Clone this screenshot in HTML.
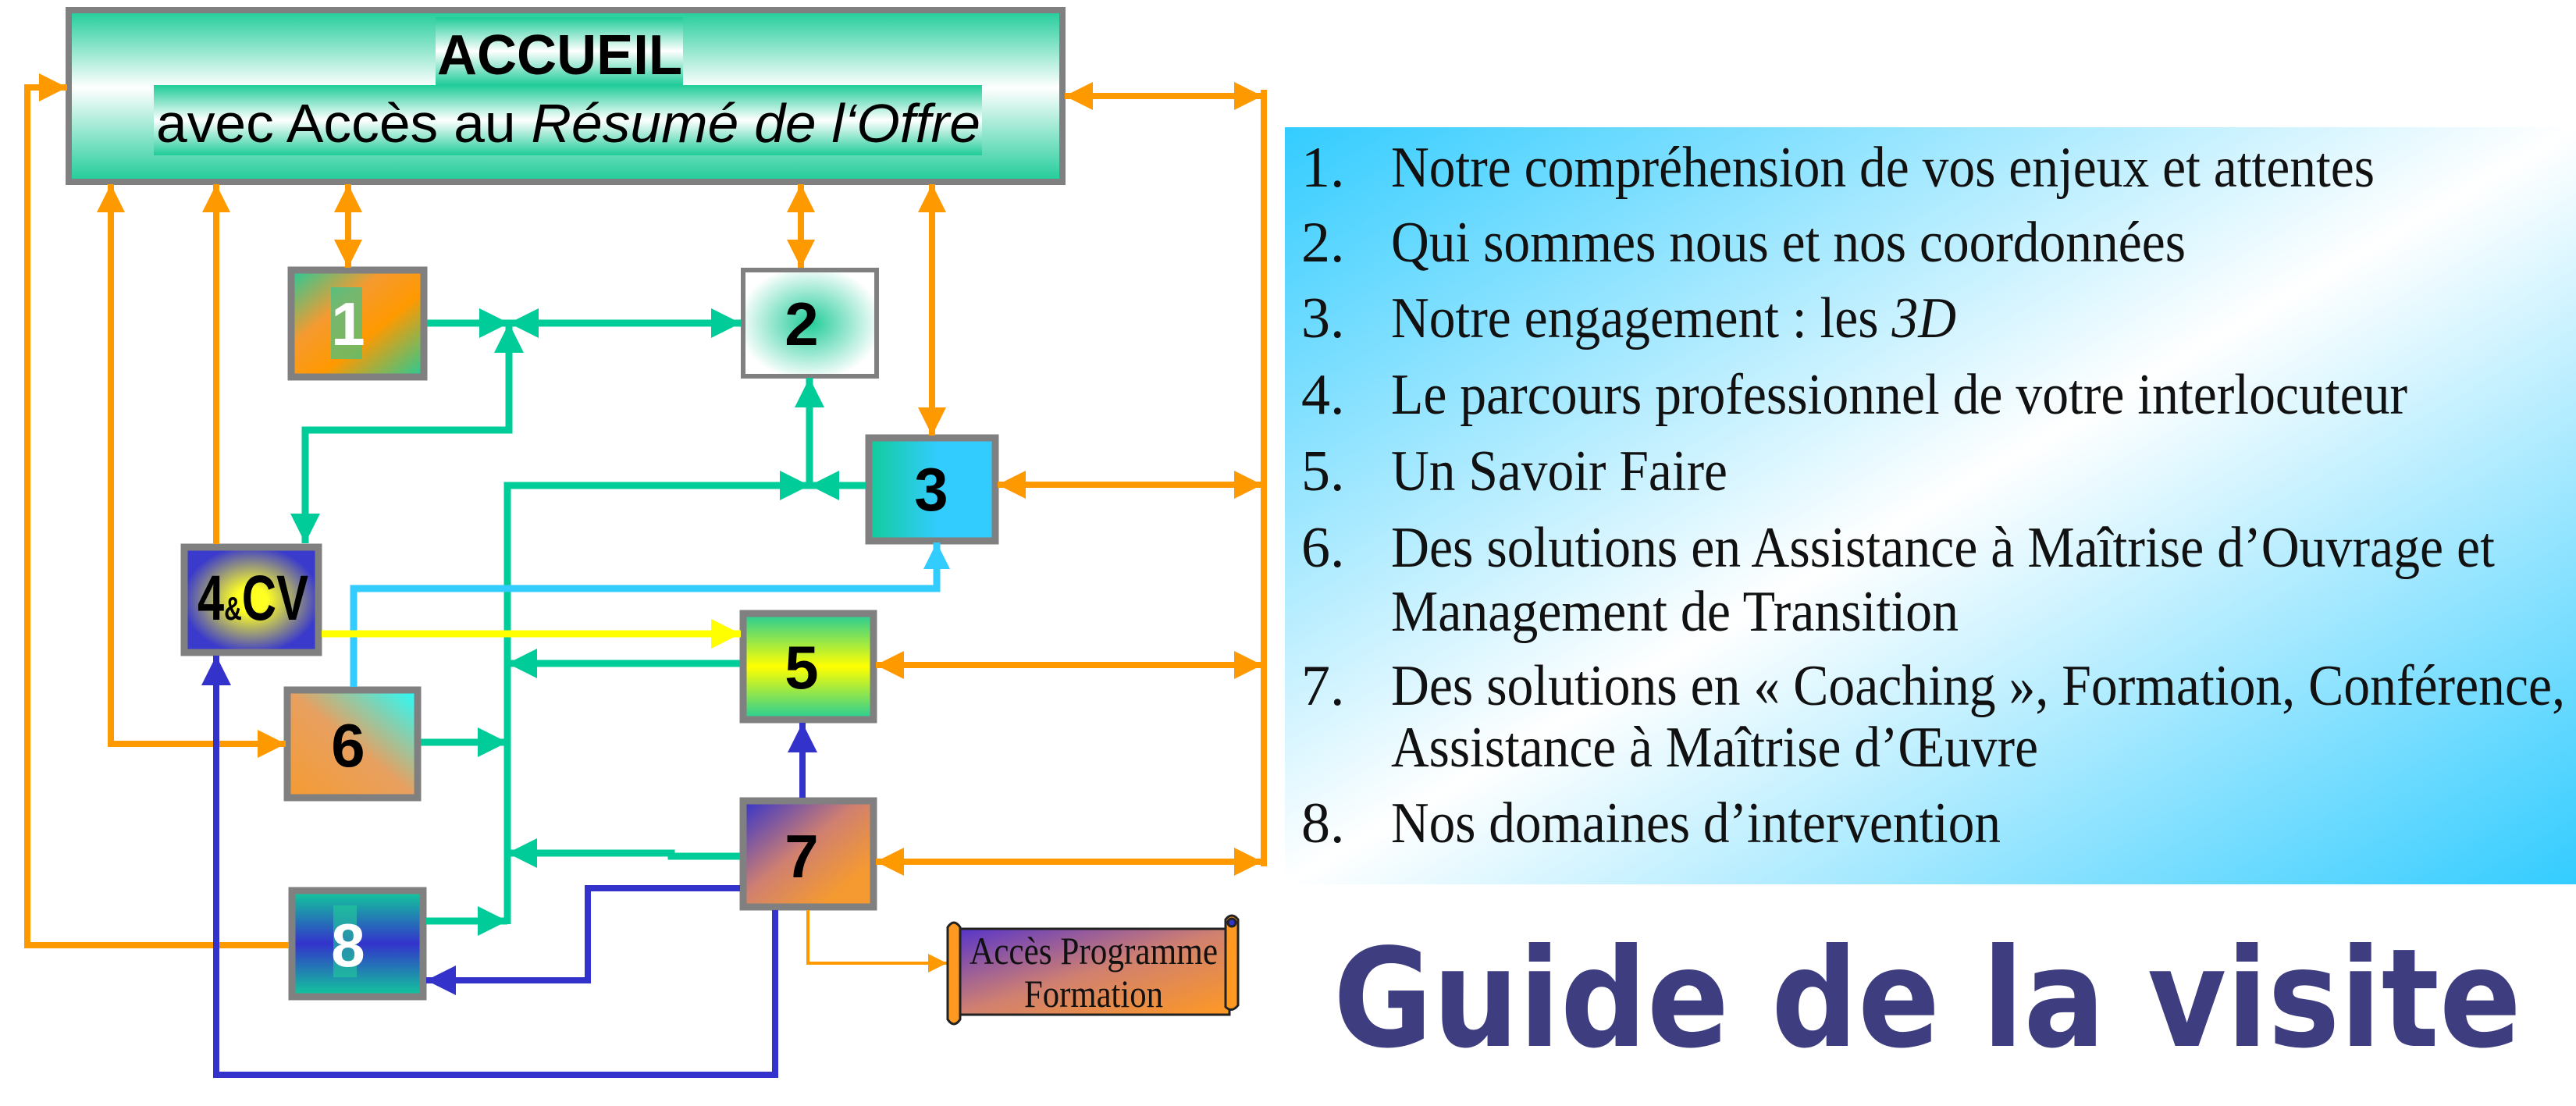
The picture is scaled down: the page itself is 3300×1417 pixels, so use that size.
<!DOCTYPE html>
<html><head><meta charset="utf-8"><style>
html,body{margin:0;padding:0;background:#fff;}
svg{display:block;}
</style></head><body>
<svg width="3300" height="1417" viewBox="0 0 3300 1417" xmlns="http://www.w3.org/2000/svg">
<defs>
<marker id="mo" viewBox="0 0 10 10" refX="10" refY="5" markerWidth="36" markerHeight="40" markerUnits="userSpaceOnUse" orient="auto-start-reverse"><path d="M0,0L10,5L0,10z" fill="#ff9900"/></marker>
<marker id="mos" viewBox="0 0 10 10" refX="10" refY="5" markerWidth="24" markerHeight="28" markerUnits="userSpaceOnUse" orient="auto-start-reverse"><path d="M0,0L10,5L0,10z" fill="#ff9900"/></marker>
<marker id="mg" viewBox="0 0 10 10" refX="10" refY="5" markerWidth="38" markerHeight="42" markerUnits="userSpaceOnUse" orient="auto-start-reverse"><path d="M0,0L10,5L0,10z" fill="#00cc99"/></marker>
<marker id="mb" viewBox="0 0 10 10" refX="10" refY="5" markerWidth="38" markerHeight="40" markerUnits="userSpaceOnUse" orient="auto-start-reverse"><path d="M0,0L10,5L0,10z" fill="#3333cc"/></marker>
<marker id="mc" viewBox="0 0 10 10" refX="10" refY="5" markerWidth="34" markerHeight="36" markerUnits="userSpaceOnUse" orient="auto-start-reverse"><path d="M0,0L10,5L0,10z" fill="#33ccff"/></marker>
<marker id="my" viewBox="0 0 10 10" refX="10" refY="5" markerWidth="38" markerHeight="42" markerUnits="userSpaceOnUse" orient="auto-start-reverse"><path d="M0,0L10,5L0,10z" fill="#ffff00"/></marker>
<linearGradient id="gAcc" x1="0" y1="0" x2="0" y2="1"><stop offset="0" stop-color="#1fcc99"/><stop offset="0.45" stop-color="#ffffff"/><stop offset="1" stop-color="#1fcc99"/></linearGradient>
<linearGradient id="gStrip" x1="0" y1="0" x2="0" y2="1"><stop offset="0" stop-color="#1fcc99"/><stop offset="0.5" stop-color="#ffffff"/><stop offset="1" stop-color="#1fcc99"/></linearGradient>
<linearGradient id="g1" x1="0" y1="0" x2="1" y2="1"><stop offset="0" stop-color="#22cc99"/><stop offset="0.35" stop-color="#f59a30"/><stop offset="0.6" stop-color="#ff9900"/><stop offset="1" stop-color="#22cc99"/></linearGradient>
<radialGradient id="g2" cx="0.5" cy="0.5" r="0.6"><stop offset="0" stop-color="#22cc99"/><stop offset="0.9" stop-color="#ffffff"/></radialGradient>
<linearGradient id="g3" x1="0" y1="0" x2="1" y2="0"><stop offset="0" stop-color="#11cc99"/><stop offset="0.55" stop-color="#33ccff"/><stop offset="1" stop-color="#33ccff"/></linearGradient>
<radialGradient id="g4" cx="0.5" cy="0.5" r="0.6"><stop offset="0.2" stop-color="#ffff22"/><stop offset="0.85" stop-color="#3a3acc"/></radialGradient>
<linearGradient id="g5" x1="0" y1="0" x2="0" y2="1"><stop offset="0" stop-color="#22cc99"/><stop offset="0.5" stop-color="#ffff00"/><stop offset="1" stop-color="#22cc99"/></linearGradient>
<linearGradient id="g6" x1="1" y1="0" x2="0" y2="1"><stop offset="0" stop-color="#22ffff"/><stop offset="0.5" stop-color="#e8a060"/><stop offset="1" stop-color="#f59a30"/></linearGradient>
<linearGradient id="g7" x1="0" y1="0" x2="1" y2="1"><stop offset="0" stop-color="#3333cc"/><stop offset="0.45" stop-color="#d08070"/><stop offset="0.8" stop-color="#f59a30"/></linearGradient>
<linearGradient id="g8" x1="0" y1="0" x2="0" y2="1"><stop offset="0" stop-color="#11cc99"/><stop offset="0.5" stop-color="#3333cc"/><stop offset="1" stop-color="#11cc99"/></linearGradient>
<linearGradient id="gScroll" x1="0" y1="0" x2="1" y2="1"><stop offset="0" stop-color="#5533cc"/><stop offset="0.5" stop-color="#d08070"/><stop offset="1" stop-color="#ff9922"/></linearGradient>
<linearGradient id="gPanel" x1="0" y1="0" x2="1" y2="1"><stop offset="0" stop-color="#33ccff"/><stop offset="0.5" stop-color="#ffffff"/><stop offset="1" stop-color="#33ccff"/></linearGradient>
</defs>

<!-- right panel -->
<rect x="1646" y="163" width="1654" height="970" fill="url(#gPanel)"/>
<g font-family="Liberation Serif, serif" font-size="74" fill="#111" lengthAdjust="spacingAndGlyphs">
<text x="1667" y="239">1.</text><text x="1782" y="239" textLength="1260" lengthAdjust="spacingAndGlyphs">Notre compréhension de vos enjeux et attentes</text>
<text x="1667" y="335">2.</text><text x="1782" y="335" textLength="1018" lengthAdjust="spacingAndGlyphs">Qui sommes nous et nos coordonnées</text>
<text x="1667" y="432">3.</text><text x="1782" y="432" textLength="724" lengthAdjust="spacingAndGlyphs">Notre engagement : les <tspan font-style="italic">3D</tspan></text>
<text x="1667" y="530">4.</text><text x="1782" y="530" textLength="1302" lengthAdjust="spacingAndGlyphs">Le parcours professionnel de votre interlocuteur</text>
<text x="1667" y="628">5.</text><text x="1782" y="628" textLength="431" lengthAdjust="spacingAndGlyphs">Un Savoir Faire</text>
<text x="1667" y="726">6.</text><text x="1782" y="726" textLength="1414" lengthAdjust="spacingAndGlyphs">Des solutions en Assistance à Maîtrise d’Ouvrage et</text>
<text x="1782" y="808" textLength="727" lengthAdjust="spacingAndGlyphs">Management de Transition</text>
<text x="1667" y="903">7.</text><text x="1782" y="903" textLength="1504" lengthAdjust="spacingAndGlyphs">Des solutions en « Coaching », Formation, Conférence,</text>
<text x="1782" y="982" textLength="829" lengthAdjust="spacingAndGlyphs">Assistance à Maîtrise d’Œuvre</text>
<text x="1667" y="1079">8.</text><text x="1782" y="1079" textLength="781" lengthAdjust="spacingAndGlyphs">Nos domaines d’intervention</text>
</g>
<text x="1708" y="1340" font-family="DejaVu Sans, sans-serif" font-weight="bold" font-size="175" fill="#3d3d80" textLength="1522" lengthAdjust="spacingAndGlyphs">Guide de la visite</text>

<!-- Accueil -->
<rect x="88" y="13" width="1273" height="220" fill="url(#gAcc)" stroke="#808080" stroke-width="8"/>
<rect x="558" y="22" width="317" height="87" fill="url(#gStrip)"/>
<rect x="197" y="109" width="1061" height="90" fill="url(#gStrip)"/>
<text x="560" y="95" font-family="Liberation Sans, sans-serif" font-weight="bold" font-size="72" textLength="314" lengthAdjust="spacingAndGlyphs">ACCUEIL</text>
<text x="200" y="182" font-family="Liberation Sans, sans-serif" font-size="70" textLength="1056" lengthAdjust="spacingAndGlyphs">avec Accès au <tspan font-style="italic">Résumé de l‘Offre</tspan></text>

<!-- boxes -->
<g stroke="#808080" stroke-width="9">
<rect x="373" y="346" width="170" height="137" fill="url(#g1)"/>
<rect x="952" y="346" width="171" height="136" fill="url(#g2)" stroke-width="6"/>
<rect x="1113" y="561" width="162" height="132" fill="url(#g3)"/>
<rect x="236" y="701" width="172" height="135" fill="url(#g4)"/>
<rect x="952" y="786" width="167" height="136" fill="url(#g5)"/>
<rect x="368" y="884" width="167" height="138" fill="url(#g6)"/>
<rect x="952" y="1026" width="167" height="136" fill="url(#g7)"/>
<rect x="374" y="1141" width="168" height="136" fill="url(#g8)"/>
</g>
<rect x="424" y="368" width="40" height="92" fill="#22cc99" opacity="0.6"/>
<rect x="427" y="1160" width="30" height="92" fill="#22cc99" opacity="0.6"/>
<g font-family="Liberation Sans, sans-serif" font-weight="bold" font-size="78" text-anchor="middle">
<text x="446" y="442" fill="#fff">1</text>
<text x="1027" y="442">2</text>
<text x="1193" y="654">3</text>
<text x="324" y="794" font-size="82" textLength="142" lengthAdjust="spacingAndGlyphs">4<tspan font-size="42">&amp;</tspan>CV</text>
<text x="1027" y="882">5</text>
<text x="446" y="982">6</text>
<text x="1027" y="1124">7</text>
<text x="446" y="1238" fill="#fff">8</text>
</g>

<!-- orange lines -->
<g fill="none" stroke="#ff9900" stroke-width="8">
<path d="M1364,123H1617" marker-start="url(#mo)" marker-end="url(#mo)"/>
<path d="M1619,115V1110"/>
<path d="M1278,621H1617" marker-start="url(#mo)" marker-end="url(#mo)"/>
<path d="M1122,852H1617" marker-start="url(#mo)" marker-end="url(#mo)"/>
<path d="M1122,1104H1617" marker-start="url(#mo)" marker-end="url(#mo)"/>
<path d="M370,1211H35V112H86" marker-end="url(#mo)"/>
<path d="M142,236V953H366" marker-start="url(#mo)" marker-end="url(#mo)"/>
<path d="M277,697V236" marker-end="url(#mo)"/>
<path d="M446,236V343" marker-start="url(#mo)" marker-end="url(#mo)"/>
<path d="M1026,236V343" marker-start="url(#mo)" marker-end="url(#mo)"/>
<path d="M1194,236V558" marker-start="url(#mo)" marker-end="url(#mo)"/>
<path d="M1035,1166V1234H1213" stroke-width="4" marker-end="url(#mos)"/>
</g>
<!-- green -->
<g fill="none" stroke="#00cc99" stroke-width="9">
<path d="M547,414H652" marker-end="url(#mg)"/>
<path d="M652,414H949" marker-start="url(#mg)" marker-end="url(#mg)"/>
<path d="M391,696V551H652V414" marker-start="url(#mg)" marker-end="url(#mg)"/>
<path d="M1109,622H1037" marker-end="url(#mg)"/>
<path d="M1037,622V484" marker-end="url(#mg)"/>
<path d="M650,1184V622H1037" marker-end="url(#mg)"/>
<path d="M948,850H650" marker-end="url(#mg)"/>
<path d="M539,951H650" marker-end="url(#mg)"/>
<path d="M948,1097H860V1093H650" marker-end="url(#mg)"/>
<path d="M546,1180H650" marker-end="url(#mg)"/>
</g>
<path d="M453,880V754H1200V695" fill="none" stroke="#33ccff" stroke-width="9" marker-end="url(#mc)"/>
<path d="M412,812H949" fill="none" stroke="#ffff00" stroke-width="9" marker-end="url(#my)"/>
<g fill="none" stroke="#3333cc" stroke-width="8">
<path d="M1028,1022V926" marker-end="url(#mb)"/>
<path d="M948,1138H753V1256H546" marker-end="url(#mb)"/>
<path d="M993,1166V1377H277V840" marker-end="url(#mb)"/>
</g>

<!-- scroll -->
<g stroke="#222" stroke-width="3">
<path d="M1222,1190H1575V1300H1228" fill="url(#gScroll)"/>
<path d="M1214,1188q8,-12 16,0v118q-8,12 -16,0z" fill="#ff9922"/>
<path d="M1570,1178q8,-10 16,0v110q-8,10 -16,2z" fill="#ff9922"/>
<circle cx="1578" cy="1182" r="5" fill="#3333cc"/>
</g>
<g font-family="Liberation Serif, serif" font-size="50" fill="#111">
<text x="1242" y="1235" textLength="318" lengthAdjust="spacingAndGlyphs">Accès Programme</text>
<text x="1312" y="1290" textLength="178" lengthAdjust="spacingAndGlyphs">Formation</text>
</g>
</svg>
</body></html>
